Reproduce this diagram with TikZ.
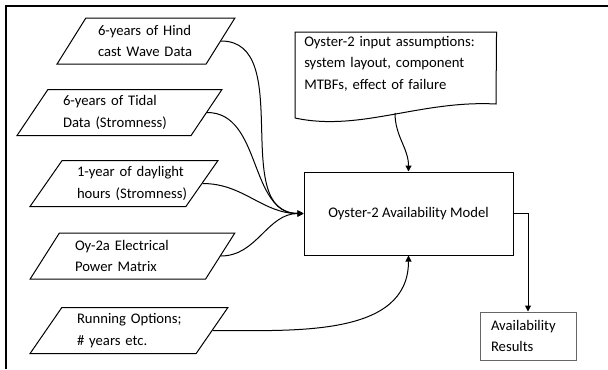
\documentclass[tikz,border=0pt]{standalone}
\usepackage{fontspec}
\setmainfont{Carlito}
\usetikzlibrary{shapes.geometric,arrows.meta}
\begin{document}
\begin{tikzpicture}[x=0.75pt, y=-0.75pt,
  every node/.style={font=\fontsize{11pt}{16pt}\selectfont},
  para/.style={trapezium, trapezium left angle=54, trapezium right angle=126, trapezium stretches=true, draw, line width=0.75pt, align=left, inner sep=0pt, minimum height=34.5pt},
  flow/.style={line width=0.75pt, -{Triangle[length=4.5pt, width=4.5pt]}}]
\useasboundingbox (0,0) rectangle (608,369);
\draw[line width=1.5pt] (6,369) -- (6,6) -- (608,6);
\node[para, minimum width=133.5pt, text width=72pt] (wave) at (146,41) {\mbox{6-years of Hind}\\\mbox{cast Wave Data}};
\node[para, minimum width=153.75pt, text width=84.75pt] (tide) at (119.5,112.5) {\mbox{6-years of Tidal}\\\mbox{Data (Stromness)}};
\node[para, minimum width=141pt, text width=70.5pt] (daylight) at (124,183.5) {\mbox{1-year of daylight}\\\mbox{hours (Stromness)}};
\node[para, minimum width=153.75pt, text width=86.25pt] (power) at (132.5,256) {\mbox{Oy-2a Electrical}\\\mbox{Power Matrix}};
\node[para, minimum width=148.5pt, text width=78pt] (options) at (129,330.5) {\mbox{Running Options;}\\\mbox{\# years etc.}};
\node[anchor=north west, align=left, text width=137.25pt, inner xsep=6.75pt, inner ysep=3pt] (assume) at (295,32) {Oyster-2 input assumptions:\\system layout, component\\MTBFs, effect of failure};
\draw[line width=0.75pt] (295,118) -- (assume.north west) -- (assume.north east) -- (496,104) .. controls +(-76,-4) and +(65,14) .. (295,118);
\coordinate (assumebot) at (395,113);
\node[draw, line width=0.75pt, minimum width=156.75pt, minimum height=62.25pt] (model) at (408.5,213.5) {\raisebox{-3pt}{Oyster-2 Availability Model}};
\node[draw=black!60, line width=0.75pt, align=left, text width=55.5pt, inner xsep=8.25pt, minimum height=36pt] (results) at (528,336) {Availability\\Results};
\draw[flow] (wave.east) to[out=0, in=180] (model.west);
\draw[flow] (tide.east) to[out=0, in=180] (model.west);
\draw[flow] (daylight.east) to[out=0, in=180] (model.west);
\draw[flow] (power.east) to[out=0, in=180] (model.west);
\draw[flow] (options.east) to[out=0, in=-90] (model.south);
\draw[flow] (assumebot) to[out=-90, in=90] (model.north);
\draw[flow] (model.east) -| (results.north);
\end{tikzpicture}
\end{document}
